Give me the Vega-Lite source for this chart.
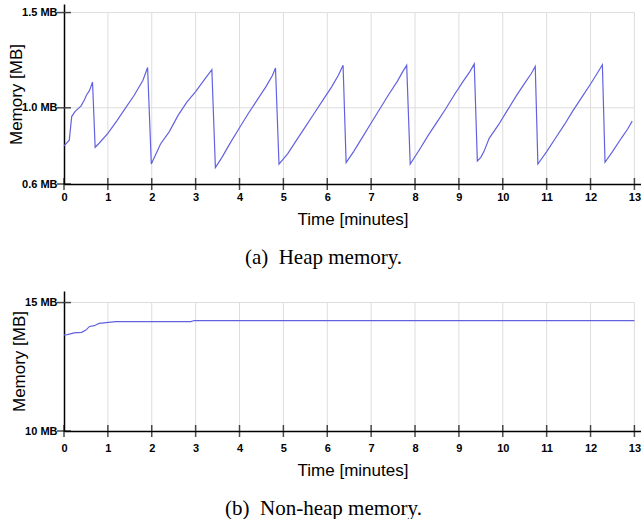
{
  "$schema": "https://vega.github.io/schema/vega-lite/v6.json",
  "padding": {"left": 7, "top": 4, "right": 0, "bottom": 0},
  "background": "white",
  "config": {
    "view": {"stroke": null},
    "concat": {"spacing": 23},
    "axis": {
      "domainColor": "black",
      "domainWidth": 1.5,
      "ticks": false,
      "grid": false,
      "labelFont": "Liberation Sans",
      "labelFontWeight": "bold",
      "labelFontSize": 11,
      "labelColor": "black",
      "titleFont": "Liberation Sans",
      "titleFontWeight": "normal",
      "titleFontSize": 17,
      "titleColor": "black",
      "labelFlush": false
    },
    "axisX": {"labelPadding": 7, "titlePadding": 9, "values": [0,1,2,3,4,5,6,7,8,9,10,11,12,13]},
    "axisY": {"labelPadding": 7, "titlePadding": -4}
  },
  "datasets": {
    "heap": [
      {"t": 0.0, "m": 0.80}, {"t": 0.12, "m": 0.83}, {"t": 0.175, "m": 0.954}, {"t": 0.25, "m": 0.98},
      {"t": 0.39, "m": 1.01}, {"t": 0.46, "m": 1.04}, {"t": 0.52, "m": 1.07}, {"t": 0.58, "m": 1.09},
      {"t": 0.65, "m": 1.135},
      {"t": 0.71, "m": 0.793}, {"t": 0.8, "m": 0.814}, {"t": 1.0, "m": 0.866}, {"t": 1.2, "m": 0.93},
      {"t": 1.4, "m": 0.998}, {"t": 1.6, "m": 1.066}, {"t": 1.8, "m": 1.145}, {"t": 1.905, "m": 1.212},
      {"t": 1.99, "m": 0.705}, {"t": 2.2, "m": 0.81}, {"t": 2.4, "m": 0.875}, {"t": 2.6, "m": 0.96},
      {"t": 2.8, "m": 1.03}, {"t": 3.0, "m": 1.085}, {"t": 3.2, "m": 1.148}, {"t": 3.37, "m": 1.2},
      {"t": 3.45, "m": 0.686}, {"t": 3.6, "m": 0.74}, {"t": 3.8, "m": 0.82}, {"t": 4.0, "m": 0.895},
      {"t": 4.2, "m": 0.97}, {"t": 4.4, "m": 1.04}, {"t": 4.6, "m": 1.11}, {"t": 4.75, "m": 1.17},
      {"t": 4.82, "m": 1.209},
      {"t": 4.9, "m": 0.704}, {"t": 5.1, "m": 0.76}, {"t": 5.3, "m": 0.83}, {"t": 5.5, "m": 0.9},
      {"t": 5.7, "m": 0.97}, {"t": 5.9, "m": 1.04}, {"t": 6.1, "m": 1.11}, {"t": 6.25, "m": 1.17},
      {"t": 6.36, "m": 1.223},
      {"t": 6.43, "m": 0.712}, {"t": 6.6, "m": 0.77}, {"t": 6.8, "m": 0.845}, {"t": 7.0, "m": 0.92},
      {"t": 7.2, "m": 0.995}, {"t": 7.4, "m": 1.07}, {"t": 7.6, "m": 1.14}, {"t": 7.72, "m": 1.19},
      {"t": 7.81, "m": 1.223},
      {"t": 7.89, "m": 0.705}, {"t": 8.1, "m": 0.78}, {"t": 8.3, "m": 0.855}, {"t": 8.5, "m": 0.925},
      {"t": 8.7, "m": 0.995}, {"t": 8.9, "m": 1.07}, {"t": 9.1, "m": 1.14}, {"t": 9.25, "m": 1.19},
      {"t": 9.35, "m": 1.23},
      {"t": 9.42, "m": 0.721}, {"t": 9.5, "m": 0.74}, {"t": 9.57, "m": 0.77}, {"t": 9.69, "m": 0.84},
      {"t": 9.9, "m": 0.91}, {"t": 10.1, "m": 0.985}, {"t": 10.3, "m": 1.06}, {"t": 10.5, "m": 1.13},
      {"t": 10.65, "m": 1.18}, {"t": 10.74, "m": 1.217},
      {"t": 10.8, "m": 0.705}, {"t": 11.0, "m": 0.77}, {"t": 11.2, "m": 0.84}, {"t": 11.4, "m": 0.91},
      {"t": 11.6, "m": 0.985}, {"t": 11.8, "m": 1.055}, {"t": 12.0, "m": 1.125}, {"t": 12.15, "m": 1.18},
      {"t": 12.27, "m": 1.226},
      {"t": 12.33, "m": 0.714}, {"t": 12.5, "m": 0.77}, {"t": 12.7, "m": 0.84}, {"t": 12.85, "m": 0.89},
      {"t": 12.95, "m": 0.93}
    ],
    "nonheap": [
      {"t": 0.0, "m": 13.74}, {"t": 0.08, "m": 13.75}, {"t": 0.23, "m": 13.82}, {"t": 0.4, "m": 13.84},
      {"t": 0.5, "m": 13.93}, {"t": 0.58, "m": 14.07}, {"t": 0.69, "m": 14.1}, {"t": 0.8, "m": 14.19},
      {"t": 0.96, "m": 14.22}, {"t": 1.18, "m": 14.26}, {"t": 2.89, "m": 14.26}, {"t": 2.97, "m": 14.3},
      {"t": 13.0, "m": 14.3}
    ],
    "minutes": [
      {"x": 0}, {"x": 1}, {"x": 2}, {"x": 3}, {"x": 4}, {"x": 5}, {"x": 6}, {"x": 7},
      {"x": 8}, {"x": 9}, {"x": 10}, {"x": 11}, {"x": 12}, {"x": 13}
    ],
    "heapTicks": [{"v": 0.6}, {"v": 1.0}, {"v": 1.5}],
    "heapGrid": [{"v": 1.0}, {"v": 1.5}],
    "nonheapTicks": [{"v": 10}, {"v": 15}],
    "nonheapGrid": [{"v": 15}]
  },
  "vconcat": [
    {
      "width": 577,
      "height": 180,
      "title": {"text": "(a)\u00a0 Heap memory.", "orient": "bottom", "font": "Liberation Serif", "fontSize": 21, "fontWeight": "normal", "color": "black", "anchor": "middle", "dx": -29, "offset": 20},
      "encoding": {
        "x": {"type": "quantitative", "title": "Time [minutes]", "scale": {"domain": [0, 13.15], "nice": false, "zero": false}},
        "y": {"type": "quantitative", "title": "Memory [MB]", "scale": {"domain": [0.6, 1.545], "nice": false, "zero": false},
          "axis": {"values": [0.6, 1.0, 1.5], "labelExpr": "format(datum.value, '.1f') + ' MB'"}}
      },
      "layer": [
        {
          "data": {"name": "minutes"},
          "transform": [{"filter": "datum.x > 0"}],
          "mark": {"type": "rule", "color": "#dddddd", "strokeWidth": 1},
          "encoding": {
            "x": {"field": "x"},
            "y": {"datum": 0.6},
            "y2": {"datum": 1.5}
          }
        },
        {
          "data": {"name": "heapGrid"},
          "mark": {"type": "rule", "color": "#dddddd", "strokeWidth": 1},
          "encoding": {
            "y": {"field": "v"},
            "x": {"datum": 0},
            "x2": {"datum": 13}
          }
        },
        {
          "data": {"name": "heap"},
          "mark": {"type": "line", "color": "#6262e0", "strokeWidth": 1.2},
          "encoding": {
            "x": {"field": "t"},
            "y": {"field": "m"}
          }
        },
        {
          "data": {"name": "minutes"},
          "mark": {"type": "tick", "orient": "vertical", "color": "black", "size": 12, "thickness": 1.5},
          "encoding": {
            "x": {"field": "x"},
            "y": {"datum": 0.6}
          }
        },
        {
          "data": {"name": "heapTicks"},
          "mark": {"type": "tick", "orient": "horizontal", "color": "black", "size": 14, "thickness": 1.5},
          "encoding": {
            "y": {"field": "v"},
            "x": {"datum": 0}
          }
        }
      ]
    },
    {
      "width": 577,
      "height": 140,
      "title": {"text": "(b)\u00a0 Non-heap memory.", "orient": "bottom", "font": "Liberation Serif", "fontSize": 21, "fontWeight": "normal", "color": "black", "anchor": "middle", "dx": -29, "offset": 20},
      "encoding": {
        "x": {"type": "quantitative", "title": "Time [minutes]", "scale": {"domain": [0, 13.15], "nice": false, "zero": false},
          "axis": {"labelPadding": 11}},
        "y": {"type": "quantitative", "title": "Memory [MB]", "scale": {"domain": [10, 15.45], "nice": false, "zero": false},
          "axis": {"values": [10, 15], "labelExpr": "format(datum.value, 'd') + ' MB'"}}
      },
      "layer": [
        {
          "data": {"name": "minutes"},
          "transform": [{"filter": "datum.x > 0"}],
          "mark": {"type": "rule", "color": "#dddddd", "strokeWidth": 1},
          "encoding": {
            "x": {"field": "x"},
            "y": {"datum": 10},
            "y2": {"datum": 15}
          }
        },
        {
          "data": {"name": "nonheapGrid"},
          "mark": {"type": "rule", "color": "#dddddd", "strokeWidth": 1},
          "encoding": {
            "y": {"field": "v"},
            "x": {"datum": 0},
            "x2": {"datum": 13}
          }
        },
        {
          "data": {"name": "nonheap"},
          "mark": {"type": "line", "color": "#6262e0", "strokeWidth": 1.2},
          "encoding": {
            "x": {"field": "t"},
            "y": {"field": "m"}
          }
        },
        {
          "data": {"name": "minutes"},
          "mark": {"type": "tick", "orient": "vertical", "color": "black", "size": 12, "thickness": 1.5},
          "encoding": {
            "x": {"field": "x"},
            "y": {"datum": 10}
          }
        },
        {
          "data": {"name": "nonheapTicks"},
          "mark": {"type": "tick", "orient": "horizontal", "color": "black", "size": 14, "thickness": 1.5},
          "encoding": {
            "y": {"field": "v"},
            "x": {"datum": 0}
          }
        }
      ]
    }
  ]
}
